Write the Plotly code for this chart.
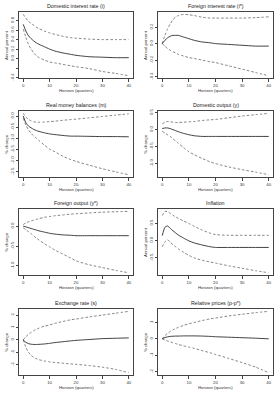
import plotly.graph_objects as go

W, H = 277, 398

horizon = [0, 1, 2, 3, 4, 5, 6, 8, 10, 12, 15, 18, 20, 25, 30, 35, 40]

titles = ["Domestic interest rate (i)", "Foreign interest rate (i*)",
          "Real money balances (m)", "Domestic output (y)",
          "Foreign output (y*)", "Inflation",
          "Exchange rate (s)", "Relative prices (p-p*)"]
ylabels = ["Annual percent", "Annual percent", "% change", "% change",
           "% change", "Annual percent", "% change", "% change"]
xlabel = "Horizon (quarters)"
xticks = [0, 10, 20, 30, 40]

# impulse responses (median) and bands
i_mid = [0.72, 0.58, 0.48, 0.42, 0.37, 0.33, 0.30, 0.25, 0.20, 0.16, 0.12, 0.09, 0.07, 0.04, 0.03, 0.02, 0.02]
i_up = [0.93, 0.85, 0.78, 0.74, 0.70, 0.66, 0.63, 0.58, 0.54, 0.51, 0.47, 0.44, 0.43, 0.41, 0.40, 0.40, 0.40]
i_lo = [0.62, 0.45, 0.30, 0.20, 0.12, 0.06, 0.02, -0.03, -0.07, -0.09, -0.12, -0.15, -0.17, -0.21, -0.27, -0.31, -0.36]

if_mid = [0.0, 0.04, 0.07, 0.09, 0.10, 0.10, 0.10, 0.08, 0.06, 0.04, 0.02, 0.01, 0.0, -0.01, -0.02, -0.03, -0.03]
if_up = [0.0, 0.10, 0.18, 0.24, 0.29, 0.32, 0.34, 0.355, 0.35, 0.34, 0.32, 0.31, 0.31, 0.31, 0.31, 0.315, 0.325]
if_lo = [0.0, -0.03, -0.06, -0.08, -0.10, -0.11, -0.13, -0.15, -0.17, -0.18, -0.20, -0.22, -0.23, -0.27, -0.31, -0.35, -0.39]

m_mid = [0.0, -0.30, -0.45, -0.53, -0.60, -0.65, -0.69, -0.75, -0.80, -0.83, -0.87, -0.90, -0.90, -0.91, -0.92, -0.92, -0.93]
m_up = [0.12, -0.05, -0.15, -0.22, -0.26, -0.27, -0.28, -0.27, -0.25, -0.23, -0.19, -0.16, -0.14, -0.08, -0.02, 0.04, 0.10]
m_lo = [-0.10, -0.40, -0.62, -0.78, -0.90, -1.00, -1.10, -1.30, -1.48, -1.60, -1.80, -1.95, -2.03, -2.20, -2.36, -2.50, -2.63]

y_mid = [0.03, 0.05, 0.05, 0.03, 0.0, -0.03, -0.06, -0.11, -0.15, -0.18, -0.20, -0.20, -0.20, -0.20, -0.20, -0.20, -0.20]
y_up = [0.17, 0.22, 0.24, 0.23, 0.22, 0.21, 0.21, 0.22, 0.23, 0.24, 0.27, 0.29, 0.30, 0.35, 0.40, 0.44, 0.48]
y_lo = [-0.05, -0.10, -0.15, -0.20, -0.27, -0.33, -0.40, -0.53, -0.65, -0.74, -0.85, -0.95, -1.00, -1.10, -1.18, -1.25, -1.33]

yf_mid = [0.0, -0.02, -0.04, -0.06, -0.08, -0.10, -0.12, -0.15, -0.18, -0.20, -0.22, -0.23, -0.24, -0.24, -0.24, -0.24, -0.24]
yf_up = [0.04, 0.08, 0.11, 0.13, 0.15, 0.17, 0.19, 0.22, 0.24, 0.26, 0.28, 0.30, 0.31, 0.33, 0.35, 0.36, 0.37]
yf_lo = [-0.04, -0.09, -0.14, -0.19, -0.25, -0.30, -0.35, -0.44, -0.52, -0.60, -0.70, -0.80, -0.87, -0.97, -1.04, -1.11, -1.17]

pi_mid = [0.14, 0.38, 0.42, 0.35, 0.28, 0.22, 0.16, 0.07, -0.01, -0.07, -0.13, -0.18, -0.20, -0.20, -0.20, -0.20, -0.20]
pi_up = [0.72, 0.84, 0.83, 0.78, 0.73, 0.68, 0.64, 0.56, 0.49, 0.41, 0.30, 0.21, 0.17, 0.15, 0.15, 0.15, 0.15]
pi_lo = [-0.18, -0.04, 0.02, -0.05, -0.12, -0.18, -0.24, -0.34, -0.43, -0.50, -0.57, -0.62, -0.65, -0.73, -0.80, -0.87, -0.93]

s_mid = [0.0, -0.20, -0.30, -0.35, -0.37, -0.37, -0.36, -0.33, -0.28, -0.22, -0.15, -0.08, -0.04, 0.03, 0.10, 0.13, 0.16]
s_up = [0.0, 0.25, 0.45, 0.60, 0.75, 0.85, 0.95, 1.10, 1.20, 1.33, 1.48, 1.62, 1.68, 1.85, 2.00, 2.15, 2.30]
s_lo = [0.0, -0.60, -1.00, -1.25, -1.42, -1.52, -1.60, -1.70, -1.77, -1.82, -1.88, -1.94, -1.97, -2.07, -2.20, -2.38, -2.65]

p_mid = [0.0, 0.08, 0.12, 0.15, 0.16, 0.17, 0.17, 0.18, 0.18, 0.18, 0.17, 0.15, 0.13, 0.10, 0.07, 0.04, 0.0]
p_up = [0.0, 0.20, 0.33, 0.45, 0.55, 0.63, 0.70, 0.82, 0.92, 1.00, 1.12, 1.22, 1.27, 1.40, 1.50, 1.60, 1.68]
p_lo = [0.0, -0.07, -0.13, -0.18, -0.24, -0.29, -0.34, -0.43, -0.50, -0.58, -0.72, -0.85, -0.95, -1.20, -1.45, -1.72, -2.07]

series = [(i_mid, i_up, i_lo), (if_mid, if_up, if_lo), (m_mid, m_up, m_lo),
          (y_mid, y_up, y_lo), (yf_mid, yf_up, yf_lo), (pi_mid, pi_up, pi_lo),
          (s_mid, s_up, s_lo), (p_mid, p_up, p_lo)]

yticks = [[-0.4, -0.2, 0.0, 0.2, 0.4, 0.6, 0.8],
          [-0.4, -0.2, 0.0, 0.2],
          [-2.5, -2.0, -1.5, -1.0, -0.5, 0.0],
          [-1.0, -0.5, 0.0, 0.5],
          [-1.0, -0.5, 0.0],
          [-0.5, 0.0, 0.5],
          [-2, -1, 0, 1, 2],
          [-2, -1, 0, 1]]
ytick_text = [["-0.4", "", "0.0", "0.2", "0.4", "0.6", "0.8"],
              ["-0.4", "-0.2", "0.0", "0.2"],
              ["-2.5", "-2.0", "-1.5", "-1.0", "-0.5", "0.0"],
              ["-1.0", "-0.5", "0.0", "0.5"],
              ["-1.0", "-0.5", "0.0"],
              ["-0.5", "0.0", "0.5"],
              ["-2", "-1", "0", "1", "2"],
              ["-2", "-1", "0", "1"]]

# layout geometry in pixels
col_left = [19, 158]
box_w = [114, 115]
row_top = [10, 110, 209, 310]
box_h = 67
FONT = "Liberation Sans, Arial, sans-serif"
LINE = "#444444"

fig = go.Figure()
annotations = []
for k in range(8):
    r, c = divmod(k, 2)
    x0 = col_left[c] / W
    x1 = (col_left[c] + box_w[c]) / W
    ytop = 1 - row_top[r] / H
    ybot = 1 - (row_top[r] + box_h) / H
    n = "" if k == 0 else str(k + 1)
    mid, up, lo = series[k]
    allv = mid + up + lo
    lo_v, hi_v = min(allv), max(allv)
    pad = 0.04 * (hi_v - lo_v)
    for vals, dash, w, col in ((up, "2.5px,2px", 0.6, "#333"), (lo, "2.5px,2px", 0.6, "#333"),
                               (mid, "solid", 0.8, "#111")):
        fig.add_trace(go.Scatter(x=horizon, y=vals, mode="lines",
                                 line=dict(color=col, width=w, dash=dash, shape="spline", smoothing=0.6),
                                 xaxis="x" + n, yaxis="y" + n, showlegend=False, hoverinfo="skip"))
    fig.layout["xaxis" + n] = dict(domain=[x0, x1], anchor="y" + n, range=[-1.6, 41.6],
                                   tickvals=xticks, ticks="outside", ticklen=2.5, tickwidth=0.5,
                                   tickcolor=LINE, showline=True, linecolor=LINE, linewidth=0.6,
                                   mirror=True, showgrid=False, zeroline=False,
                                   tickfont=dict(size=4.3, family=FONT, color="#333"))
    fig.layout["yaxis" + n] = dict(domain=[ybot, ytop], anchor="x" + n,
                                   range=[lo_v - pad, hi_v + pad],
                                   tickvals=yticks[k], ticktext=ytick_text[k], tickangle=-90,
                                   ticks="outside", ticklen=2.5, tickwidth=0.5, tickcolor=LINE,
                                   showline=True, linecolor=LINE, linewidth=0.6, mirror=True,
                                   showgrid=False, zeroline=False,
                                   tickfont=dict(size=4.3, family=FONT, color="#333"))
    cx = (col_left[c] + box_w[c] / 2) / W
    annotations.append(dict(text=titles[k], x=cx, y=1 - (row_top[r] - 5.5) / H,
                            xref="paper", yref="paper", showarrow=False,
                            font=dict(size=5.3, family=FONT, color="#222"),
                            xanchor="center", yanchor="middle"))
    annotations.append(dict(text=xlabel, x=cx, y=1 - (row_top[r] + box_h + 12) / H,
                            xref="paper", yref="paper", showarrow=False,
                            font=dict(size=4.3, family=FONT, color="#333"),
                            xanchor="center", yanchor="middle"))
    annotations.append(dict(text=ylabels[k], x=(col_left[c] - 13) / W,
                            y=1 - (row_top[r] + box_h / 2) / H,
                            xref="paper", yref="paper", showarrow=False, textangle=-90,
                            font=dict(size=4.3, family=FONT, color="#333"),
                            xanchor="center", yanchor="middle"))

fig.update_layout(width=W, height=H, margin=dict(l=0, r=0, t=0, b=0),
                  plot_bgcolor="white", paper_bgcolor="white",
                  annotations=annotations, showlegend=False)
fig.write_html("out.html", config={"displayModeBar": False})
